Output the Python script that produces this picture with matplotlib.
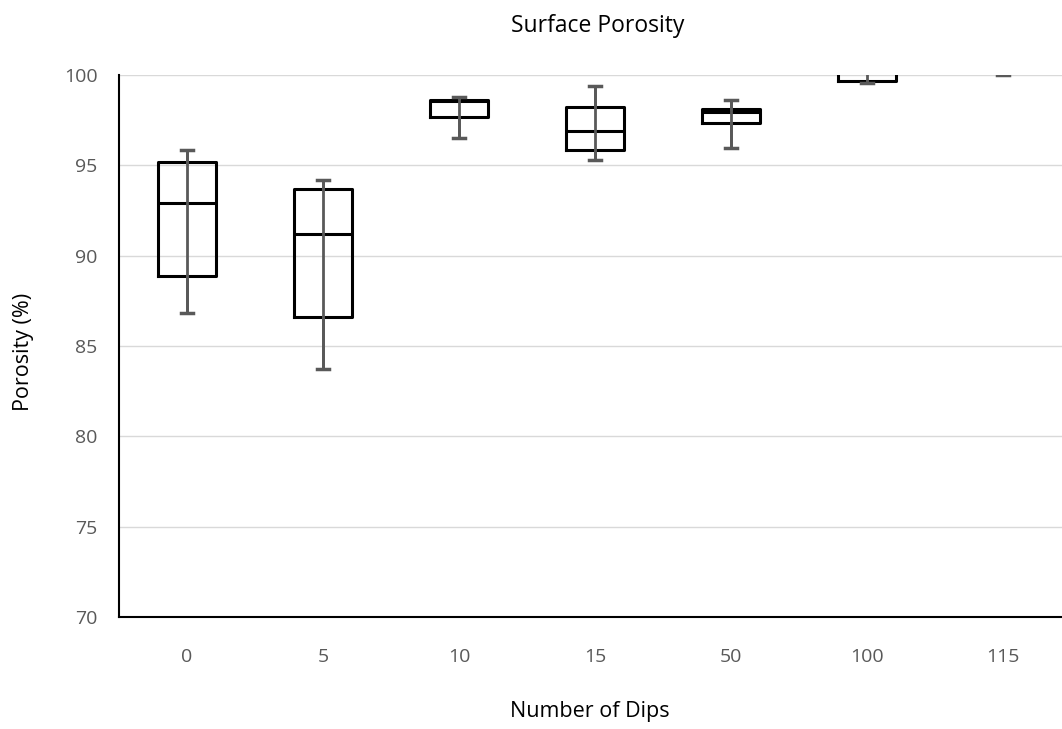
import matplotlib.pyplot as plt

dips = ['0', '5', '10', '15', '50', '100', '115']
whisker_low = [86.8, 83.7, 96.5, 95.3, 95.95, 99.55, 100.0]
q1 = [88.9, 86.6, 97.7, 95.85, 97.35, 99.65, 100.3]
median = [92.9, 91.2, 98.55, 96.9, 97.95, 100.2, 100.6]
q3 = [95.2, 93.7, 98.6, 98.25, 98.1, 100.5, 100.9]
whisker_high = [95.85, 94.2, 98.8, 99.4, 98.6, 100.8, 101.2]

plt.rcParams['font.family'] = ['Open Sans', 'DejaVu Sans']

fig = plt.figure(figsize=(10.62, 7.29), dpi=100)
ax = fig.add_axes([119 / 1062, 1 - 617 / 729, 1 - 119 / 1062, (617 - 75) / 729])

stats = []
for i in range(len(dips)):
    stats.append({'label': dips[i], 'whislo': whisker_low[i], 'q1': q1[i],
                  'med': median[i], 'q3': q3[i], 'whishi': whisker_high[i],
                  'fliers': []})

ax.bxp(stats, positions=range(len(dips)), widths=0.42, showfliers=False,
       boxprops=dict(color='black', linewidth=2.2),
       medianprops=dict(color='black', linewidth=2.2),
       whiskerprops=dict(color='#595959', linewidth=2.0),
       capprops=dict(color='#595959', linewidth=2.5),
       capwidths=0.09, zorder=3)

# whiskers in the reference run through the box
for i in range(len(dips)):
    ax.plot([i, i], [whisker_low[i], whisker_high[i]], color='#595959',
            linewidth=2.0, zorder=4, solid_capstyle='butt')

ax.set_ylim(70, 100)
ax.set_xlim(-0.5, (1062 - 119) / 136 - 0.5)
ax.set_yticks(range(70, 101, 5))
ax.yaxis.grid(True, color='#d9d9d9', linewidth=1.0)
ax.set_axisbelow(True)

for s in ['top', 'right']:
    ax.spines[s].set_visible(False)
for s in ['left', 'bottom']:
    ax.spines[s].set_color('black')
    ax.spines[s].set_linewidth(1.5)

ax.tick_params(length=0, labelsize=14, labelcolor='#595959')
ax.tick_params(axis='x', pad=22)
ax.tick_params(axis='y', pad=15.5)

fig.text(598 / 1062, 1 - 26 / 729, 'Surface Porosity', ha='center', va='center', fontsize=16.5)
fig.text(23 / 1062, 1 - 352 / 729, 'Porosity (%)', ha='center', va='center',
         rotation=90, fontsize=15.5)
fig.text(590 / 1062, 1 - 711 / 729, 'Number of Dips', ha='center', va='center', fontsize=15.5)

plt.savefig('out.png', dpi=100)
